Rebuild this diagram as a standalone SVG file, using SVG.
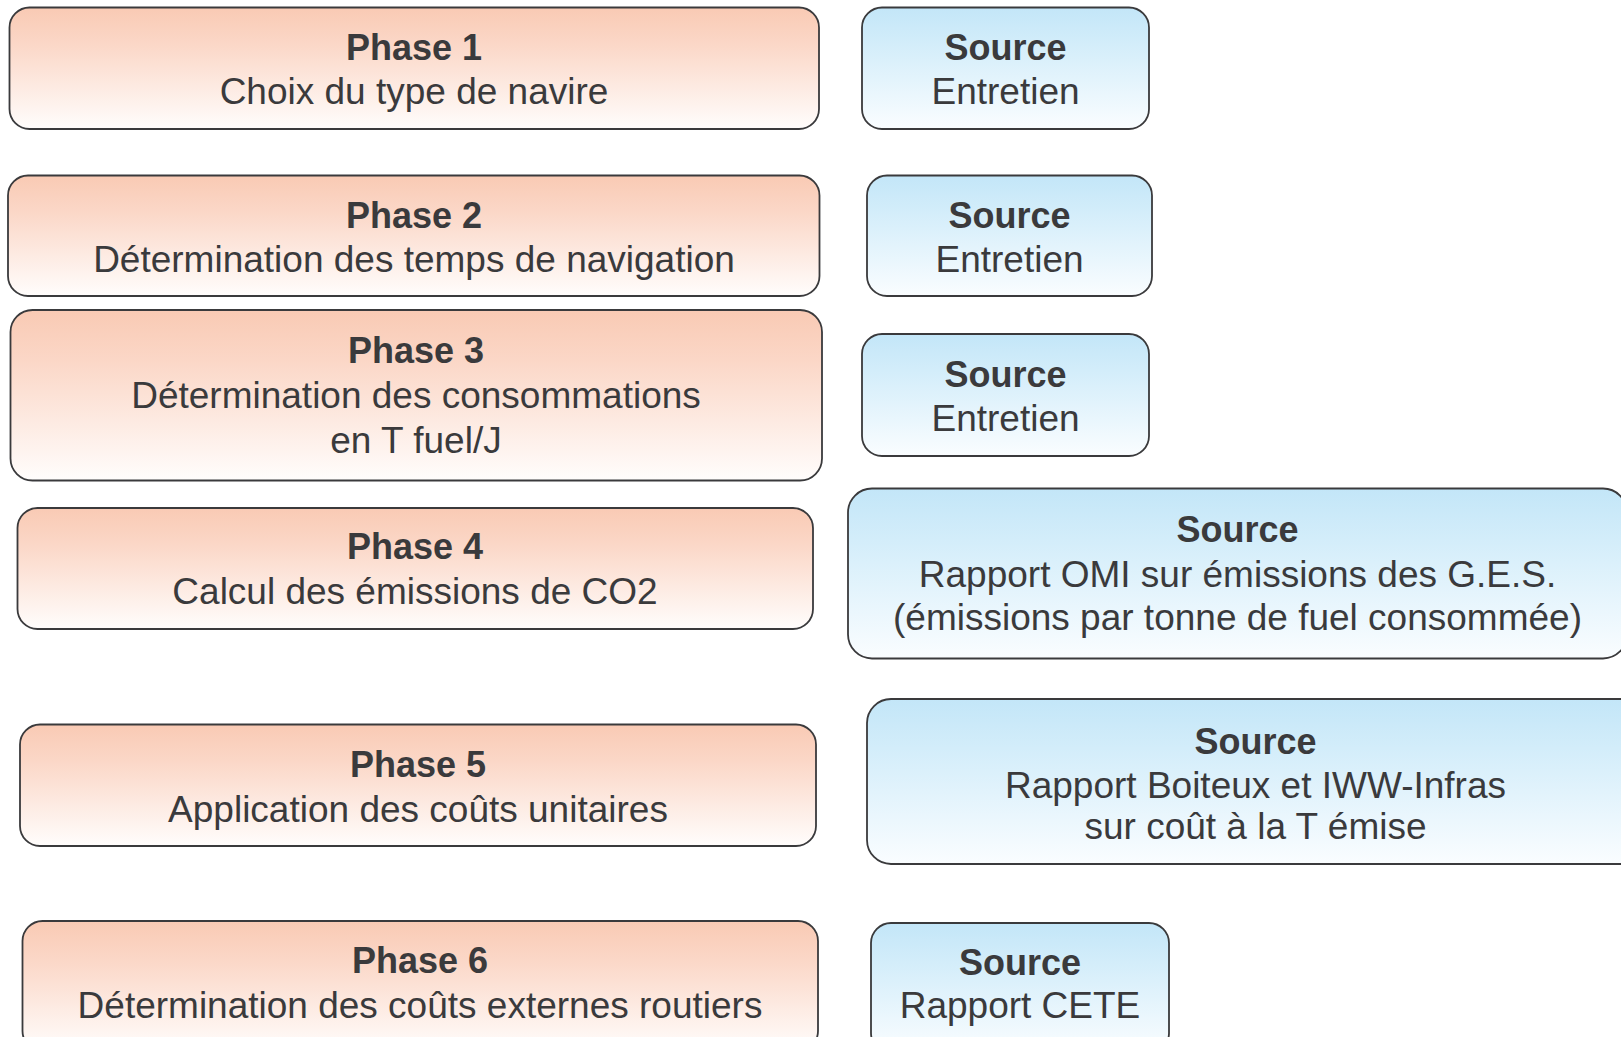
<svg xmlns="http://www.w3.org/2000/svg" width="1621" height="1037" viewBox="0 0 1621 1037">
<defs>
<linearGradient id="gPhase" x1="0" y1="0" x2="0" y2="1">
<stop offset="0" stop-color="#f9cab4"/>
<stop offset="0.3" stop-color="#fbd7c7"/>
<stop offset="1" stop-color="#fffdfc"/>
</linearGradient>
<linearGradient id="gSource" x1="0" y1="0" x2="0" y2="1">
<stop offset="0" stop-color="#c3e6f8"/>
<stop offset="0.3" stop-color="#d3edfa"/>
<stop offset="1" stop-color="#fafdff"/>
</linearGradient>
</defs>
<style>
.phase{fill:url(#gPhase);stroke:#3a3a3c;stroke-width:1.8}
.source{fill:url(#gSource);stroke:#3a3a3c;stroke-width:1.8}
text{font-family:"Liberation Sans",Arial,sans-serif;font-size:37px;fill:#3a3a3c;text-anchor:middle}
.t{font-weight:bold;font-size:36px}
</style>
<rect width="1621" height="1037" fill="#ffffff"/>
<g id="connectors"/>
<g id="phase1"><rect class="phase" x="9.5" y="7.5" width="809.5" height="121.5" rx="20"/><text class="t" x="414" y="60">Phase 1</text><text x="414" y="104">Choix du type de navire</text></g>
<g id="phase2"><rect class="phase" x="8" y="175.5" width="811.5" height="120.5" rx="20"/><text class="t" x="414" y="228">Phase 2</text><text x="414" y="272">Détermination des temps de navigation</text></g>
<g id="phase3"><rect class="phase" x="10.5" y="310" width="811.5" height="170.5" rx="22"/><text class="t" x="416" y="363">Phase 3</text><text x="416" y="408">Détermination des consommations</text><text x="416" y="453">en T fuel/J</text></g>
<g id="phase4"><rect class="phase" x="17.5" y="508" width="795.5" height="121" rx="20"/><text class="t" x="415" y="559">Phase 4</text><text x="415" y="604">Calcul des émissions de CO2</text></g>
<g id="phase5"><rect class="phase" x="20" y="724.5" width="796" height="121.5" rx="20"/><text class="t" x="418" y="777">Phase 5</text><text x="418" y="822">Application des coûts unitaires</text></g>
<g id="phase6"><rect class="phase" x="22.5" y="921" width="795.5" height="130" rx="20"/><text class="t" x="420" y="973">Phase 6</text><text x="420" y="1018">Détermination des coûts externes routiers</text></g>
<g id="source1"><rect class="source" x="862" y="7.5" width="287" height="121.5" rx="20"/><text class="t" x="1005.5" y="60">Source</text><text x="1005.5" y="104">Entretien</text></g>
<g id="source2"><rect class="source" x="867" y="175.5" width="285" height="120.5" rx="20"/><text class="t" x="1009.5" y="228">Source</text><text x="1009.5" y="272">Entretien</text></g>
<g id="source3"><rect class="source" x="862" y="334" width="287" height="122" rx="20"/><text class="t" x="1005.5" y="387">Source</text><text x="1005.5" y="431">Entretien</text></g>
<g id="source4"><rect class="source" x="848" y="488.5" width="779" height="170" rx="24"/><text class="t" x="1237.5" y="542">Source</text><text x="1237.5" y="587">Rapport OMI sur émissions des G.E.S.</text><text x="1237.5" y="630">(émissions par tonne de fuel consommée)</text></g>
<g id="source5"><rect class="source" x="867" y="699" width="778" height="165" rx="24"/><text class="t" x="1255.5" y="754">Source</text><text x="1255.5" y="798">Rapport Boiteux et IWW-Infras</text><text x="1255.5" y="839">sur coût à la T émise</text></g>
<g id="source6"><rect class="source" x="871" y="923" width="298" height="130" rx="20"/><text class="t" x="1020" y="975">Source</text><text x="1020" y="1018">Rapport CETE</text></g>
</svg>
